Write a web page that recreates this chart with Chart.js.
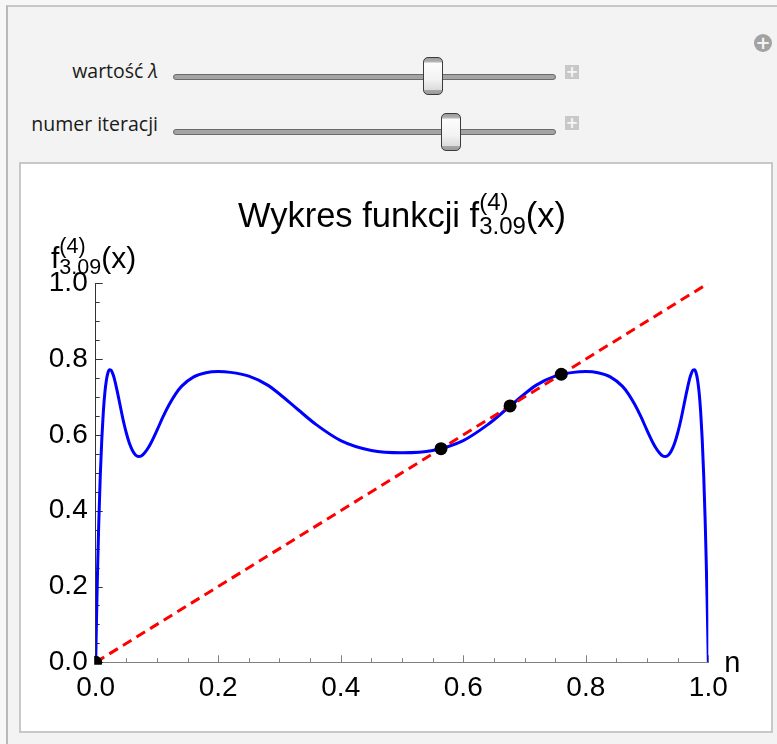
<!DOCTYPE html>
<html>
<head>
<meta charset="utf-8">
<script src="https://cdn.jsdelivr.net/npm/chart.js@4.4.0/dist/chart.umd.min.js"></script>
<style>
  html, body { margin: 0; padding: 0; width: 777px; height: 744px; overflow: hidden; background: #f7f7f7; }
  #panel { position: absolute; left: 6px; top: 5px; width: 790px; height: 760px; background: #f3f3f3;
           border-left: 2px solid #b8b8b8; border-top: 2px solid #c6c6c6; }
  .lbl { position: absolute; right: 619px; font: 19.5px "Open Sans", "Noto Sans", sans-serif; color: #1a1a1a; white-space: nowrap; }
  .track { position: absolute; left: 173px; width: 381px; height: 4px; background: #a4a4a4;
           border: 1px solid #6a6a6a; border-radius: 3px; }
  .thumb { position: absolute; width: 18px; height: 36px; border: 1.5px solid #3c3c3c; border-radius: 5px;
           background: linear-gradient(to bottom, #9a9a9a 0, #b5b5b5 4px, #fdfdfd 5px, #f2f2f2 60%, #dcdcdc 88%, #a8a8a8 89%, #9a9a9a 100%); }
  .plus { position: absolute; left: 565px; width: 14px; height: 14px; background: #c8c8c8; color: #f6f6f6;
          font: bold 15px "DejaVu Sans", sans-serif; line-height: 14px; text-align: center; }
  #more { position: absolute; left: 754px; top: 34px; width: 18px; height: 18px; border-radius: 50%; background: #a2a2a2;
          color: #f3f3f3; font: bold 18px "DejaVu Sans", sans-serif; line-height: 18px; text-align: center; }
  #plotBox { position: absolute; left: 19px; top: 162px; width: 750px; height: 567px; background: #fff;
             border: 2px solid #c8c8c8; }
  #chart { display: block; }
</style>
</head>
<body>
<div id="panel"></div>
<div id="more">+</div>
<div class="lbl" style="top:57px">wartość <i>λ</i></div>
<div class="track" style="top:74px"></div>
<div class="thumb" style="left:423px; top:57px"></div>
<div class="plus" style="top:65px">+</div>
<div class="lbl" style="top:110px">numer iteracji</div>
<div class="track" style="top:129px"></div>
<div class="thumb" style="left:441px; top:113px"></div>
<div class="plus" style="top:116px">+</div>
<div id="plotBox"><canvas id="chart" width="750" height="567"></canvas></div>

<script>
// fourth iterate of the logistic map for lambda = 3.09, sampled on [0, 1]
const curveX = [0, 0.001, 0.002, 0.0035, 0.005, 0.0075, 0.01, 0.0125, 0.015, 0.0175, 0.02, 0.0225, 0.025, 0.0275,
  0.03, 0.035, 0.04, 0.045, 0.05, 0.055, 0.06, 0.065, 0.07, 0.075, 0.08, 0.085, 0.09, 0.1, 0.11, 0.12, 0.13, 0.14,
  0.16, 0.18, 0.2, 0.22, 0.25, 0.28, 0.3, 0.33, 0.36, 0.4, 0.45, 0.5,
  0.55, 0.6, 0.64, 0.67, 0.7, 0.72, 0.75, 0.78, 0.8, 0.82, 0.84, 0.86, 0.87, 0.88, 0.89, 0.9, 0.91, 0.915, 0.92,
  0.925, 0.93, 0.935, 0.94, 0.945, 0.95, 0.955, 0.96, 0.965, 0.97, 0.9725, 0.975, 0.9775, 0.98, 0.9825, 0.985,
  0.9875, 0.99, 0.9925, 0.995, 0.9965, 0.998, 0.999, 1];
const curveY = [0, 0.087, 0.167, 0.274, 0.367, 0.494, 0.590, 0.662, 0.712, 0.745, 0.764, 0.772, 0.771, 0.763,
  0.751, 0.716, 0.677, 0.638, 0.605, 0.578, 0.559, 0.547, 0.543, 0.545, 0.553, 0.564, 0.578, 0.612, 0.648, 0.680, 0.707, 0.728,
  0.753, 0.764, 0.767, 0.765, 0.755, 0.732, 0.708, 0.667, 0.627, 0.585, 0.559, 0.553,
  0.559, 0.585, 0.627, 0.667, 0.708, 0.732, 0.755, 0.765, 0.767, 0.764, 0.753, 0.728, 0.707, 0.680, 0.648, 0.612, 0.578, 0.564, 0.553,
  0.545, 0.543, 0.547, 0.559, 0.578, 0.605, 0.638, 0.677, 0.716, 0.751, 0.763, 0.771, 0.772, 0.764, 0.745, 0.712,
  0.662, 0.590, 0.494, 0.367, 0.274, 0.167, 0.087, 0];
// diagonal y = x
const diagX = [0, 1];
const diagY = [0, 1];
// fixed points of the iterate
const fixX = [0, 0.5637, 0.6764, 0.7600];
const fixY = [0, 0.5637, 0.6764, 0.7600];
// axis ticks
const majorTicks = [0, 0.2, 0.4, 0.6, 0.8, 1.0];
const minorStep = 0.05;

const FONT = '"Liberation Sans", Arial, sans-serif';
const toPts = (xs, ys) => xs.map((x, i) => ({ x: x, y: ys[i] }));

// f^(4)_3.09(x) style label: base, stacked superscript/subscript, tail
function mathLabel(ctx, x, y, size, small, parts, draw) {
  ctx.font = size + 'px ' + FONT;
  const w0 = ctx.measureText(parts[0]).width;
  const w3 = ctx.measureText(parts[3]).width;
  ctx.font = small + 'px ' + FONT;
  const w12 = Math.max(ctx.measureText(parts[1]).width, ctx.measureText(parts[2]).width);
  const total = w0 + w12 + w3;
  if (!draw) return total;
  ctx.textBaseline = 'alphabetic';
  ctx.textAlign = 'left';
  ctx.font = size + 'px ' + FONT;
  ctx.fillText(parts[0], x, y);
  ctx.font = small + 'px ' + FONT;
  ctx.fillText(parts[1], x + w0, y - size * 0.5);
  ctx.fillText(parts[2], x + w0, y + size * 0.21);
  ctx.font = size + 'px ' + FONT;
  ctx.fillText(parts[3], x + w0 + w12, y);
  return total;
}

const decor = {
  id: 'decor',
  beforeDatasetsDraw(chart) {
    const { ctx, scales: { x, y } } = chart;
    const x0 = x.getPixelForValue(0), y0 = y.getPixelForValue(0);
    ctx.save();
    ctx.lineWidth = 1;
    const n = Math.round(1 / minorStep);
    for (let i = 0; i <= n; i++) {
      const v = i * minorStep;
      const major = majorTicks.some(t => Math.abs(t - v) < 1e-9);
      const len = major ? 7 : 4;
      const px = Math.round(x.getPixelForValue(v)) + 0.5;
      const py = Math.round(y.getPixelForValue(v)) + 0.5;
      ctx.strokeStyle = '#808080';
      ctx.beginPath(); ctx.moveTo(px, y0); ctx.lineTo(px, y0 - len); ctx.stroke();
      ctx.strokeStyle = '#333';
      ctx.beginPath(); ctx.moveTo(x0, py); ctx.lineTo(x0 + len, py); ctx.stroke();
    }
    ctx.restore();
  },
  afterDraw(chart) {
    const { ctx, chartArea: a, scales: { x } } = chart;
    ctx.save();
    ctx.fillStyle = '#000';
    const tParts = ['Wykres funkcji f', '(4)', '3.09', '(x)'];
    const tw = mathLabel(ctx, 0, 0, 34.5, 24, tParts, false);
    mathLabel(ctx, (a.left + a.right) / 2 - tw / 2, 63, 34.5, 24, tParts, true);
    mathLabel(ctx, 30, 104, 30, 21.5, ['f', '(4)', '3.09', '(x)'], true);
    ctx.font = '29px ' + FONT;
    ctx.textAlign = 'left';
    ctx.textBaseline = 'alphabetic';
    ctx.fillText('n', x.getPixelForValue(1) + 16, a.bottom + 10);
    ctx.restore();
  }
};

new Chart(document.getElementById('chart'), {
  type: 'line',
  data: {
    datasets: [
      { data: toPts(fixX, fixY), showLine: false, pointRadius: 6.5, pointHoverRadius: 6.5,
        pointBackgroundColor: '#000', pointBorderWidth: 0, order: 0, clip: { left: 1.5, bottom: 2.5, right: 10, top: 10 } },
      { data: toPts(diagX, diagY), borderColor: '#ff0000', borderWidth: 3, borderDash: [10, 6],
        pointRadius: 0, order: 1 },
      { data: toPts(curveX, curveY), borderColor: '#0000ff', borderWidth: 3, pointRadius: 0,
        cubicInterpolationMode: 'monotone', order: 2 }
    ]
  },
  options: {
    responsive: false,
    animation: false,
    devicePixelRatio: 1,
    layout: { padding: { left: 24.7, right: 62.7, top: 119.3, bottom: 28.7 } },
    plugins: { legend: { display: false }, tooltip: { enabled: false }, title: { display: false } },
    scales: {
      x: {
        type: 'linear', min: 0, max: 1,
        grid: { display: false, drawTicks: false },
        border: { display: true, color: '#808080', width: 1 },
        ticks: { stepSize: 0.2, padding: 9, color: '#000', font: { family: FONT, size: 28 },
                 maxRotation: 0, callback: v => v.toFixed(1) },
        afterFit: s => { s.height = 40; }
      },
      y: {
        type: 'linear', min: 0, max: 1,
        grid: { display: false, drawTicks: false },
        border: { display: true, color: '#333', width: 1 },
        ticks: { stepSize: 0.2, padding: 8, color: '#000', font: { family: FONT, size: 28 },
                 callback: v => v.toFixed(1) },
        afterFit: s => { s.width = 50; }
      }
    }
  },
  plugins: [decor]
});
</script>
</body>
</html>
